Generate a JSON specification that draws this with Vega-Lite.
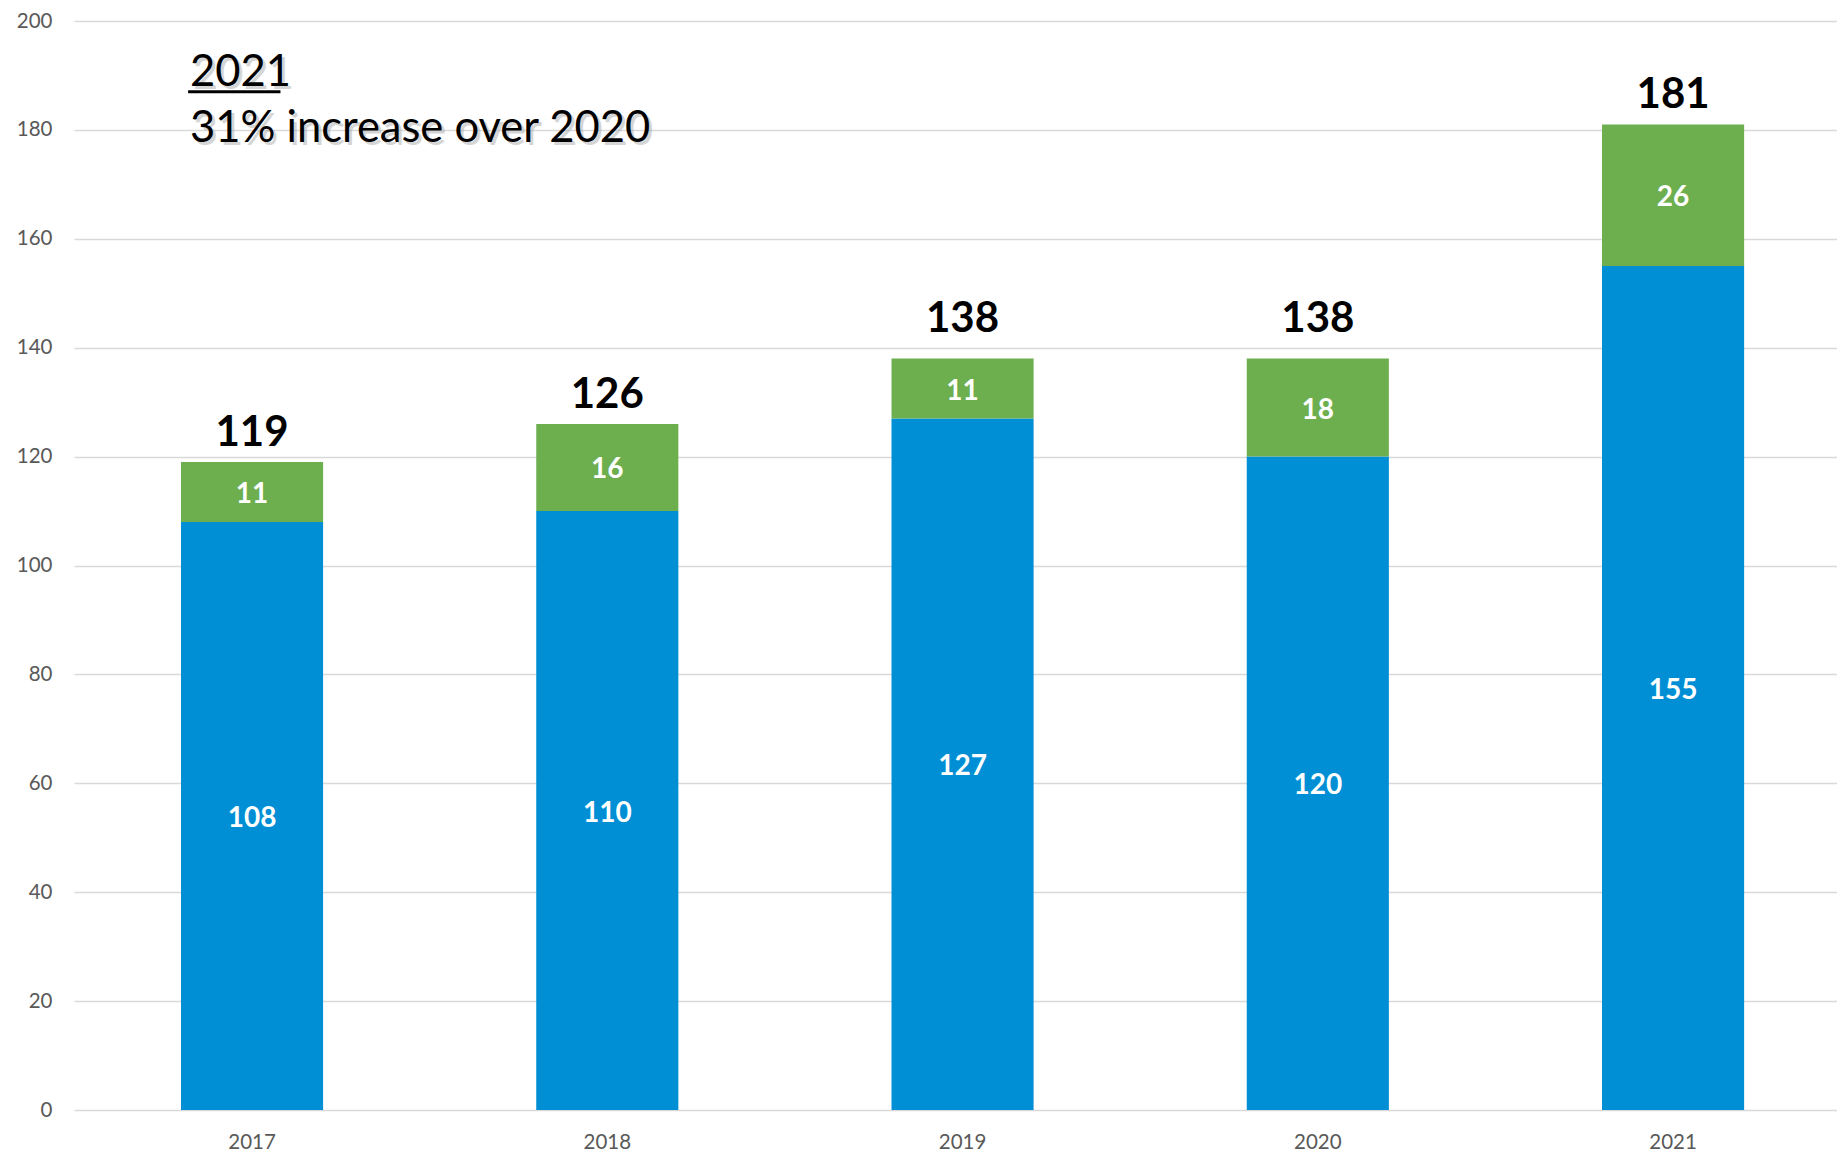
{
  "$schema": "https://vega.github.io/schema/vega-lite/v6.json",
  "width": 1763,
  "height": 1089,
  "autosize": {"type": "none"},
  "padding": {"left": 74, "top": 21, "right": 0, "bottom": 43},
  "background": "white",
  "config": {
    "view": {"stroke": null},
    "font": "Lato",
    "axis": {"labelFont": "Lato", "labelColor": "#595959", "labelFontSize": 20.5}
  },
  "data": {
    "values": [
      {"year": "2017", "segment": "Segment 1", "value": 108},
      {"year": "2017", "segment": "Segment 2", "value": 11},
      {"year": "2018", "segment": "Segment 1", "value": 110},
      {"year": "2018", "segment": "Segment 2", "value": 16},
      {"year": "2019", "segment": "Segment 1", "value": 127},
      {"year": "2019", "segment": "Segment 2", "value": 11},
      {"year": "2020", "segment": "Segment 1", "value": 120},
      {"year": "2020", "segment": "Segment 2", "value": 18},
      {"year": "2021", "segment": "Segment 1", "value": 155},
      {"year": "2021", "segment": "Segment 2", "value": 26}
    ]
  },
  "encoding": {
    "x": {
      "field": "year",
      "type": "nominal",
      "scale": {"paddingInner": 0.6, "paddingOuter": 0.2813, "align": 0.5353},
      "axis": {"title": null, "labelAngle": 0, "domain": false, "ticks": false, "labelPadding": 22, "grid": false}
    }
  },
  "layer": [
    {
      "mark": {"type": "bar"},
      "encoding": {
        "y": {
          "field": "value",
          "type": "quantitative",
          "stack": "zero",
          "scale": {"domain": [0, 200], "nice": false},
          "axis": {
            "title": null,
            "values": [0, 20, 40, 60, 80, 100, 120, 140, 160, 180, 200],
            "domain": false,
            "ticks": false,
            "labelPadding": 22,
            "gridColor": "#d9d9d9",
            "gridWidth": 1.5
          }
        },
        "color": {
          "field": "segment",
          "type": "nominal",
          "scale": {"domain": ["Segment 1", "Segment 2"], "range": ["#008FD5", "#6DAE4F"]},
          "legend": null
        },
        "order": {"field": "segment", "sort": "ascending"}
      }
    },
    {
      "mark": {"type": "text", "color": "white", "fontWeight": "bold", "fontSize": 28, "baseline": "middle", "dy": 3, "font": "Lato"},
      "encoding": {
        "y": {"field": "value", "type": "quantitative", "stack": "zero", "bandPosition": 0.5},
        "detail": {"field": "segment"},
        "order": {"field": "segment", "sort": "ascending"},
        "text": {"field": "value", "type": "quantitative"}
      }
    },
    {
      "transform": [
        {"aggregate": [{"op": "sum", "field": "value", "as": "total"}], "groupby": ["year"]},
        {"filter": "datum.year !== '2019' && datum.year !== '2020'"}
      ],
      "mark": {"type": "text", "color": "black", "fontWeight": "bold", "fontSize": 42, "baseline": "alphabetic", "dy": -16, "font": "Lato"},
      "encoding": {
        "y": {"field": "total", "type": "quantitative"},
        "text": {"field": "total", "type": "quantitative"}
      }
    },
    {
      "transform": [
        {"aggregate": [{"op": "sum", "field": "value", "as": "total"}], "groupby": ["year"]},
        {"filter": "datum.year === '2019' || datum.year === '2020'"}
      ],
      "mark": {"type": "text", "color": "black", "fontWeight": "bold", "fontSize": 42, "baseline": "alphabetic", "dy": -27, "font": "Lato"},
      "encoding": {
        "y": {"field": "total", "type": "quantitative"},
        "text": {"field": "total", "type": "quantitative"}
      }
    },
    {
      "data": {"values": [{"note": "2021", "level": 188}, {"note": "31% increase over 2020", "level": 177.8}]},
      "mark": {"type": "text", "color": "#999999", "opacity": 0.4, "fontSize": 43.5, "align": "left", "baseline": "alphabetic", "dx": 12, "dy": 3, "font": "Lato"},
      "encoding": {
        "x": {"datum": "2017", "bandPosition": 0},
        "y": {"field": "level", "type": "quantitative"},
        "text": {"field": "note"}
      }
    },
    {
      "data": {"values": [{"note": "2021", "level": 188}, {"note": "31% increase over 2020", "level": 177.8}]},
      "mark": {"type": "text", "color": "black", "fontSize": 43.5, "align": "left", "baseline": "alphabetic", "dx": 9, "font": "Lato"},
      "encoding": {
        "x": {"datum": "2017", "bandPosition": 0},
        "y": {"field": "level", "type": "quantitative"},
        "text": {"field": "note"}
      }
    },
    {
      "data": {"values": [{"level": 187}]},
      "mark": {"type": "rule", "color": "black", "strokeWidth": 3},
      "encoding": {
        "x": {"datum": "2017", "bandPosition": 0.05},
        "x2": {"datum": "2017", "bandPosition": 0.7},
        "y": {"field": "level", "type": "quantitative"}
      }
    }
  ]
}
